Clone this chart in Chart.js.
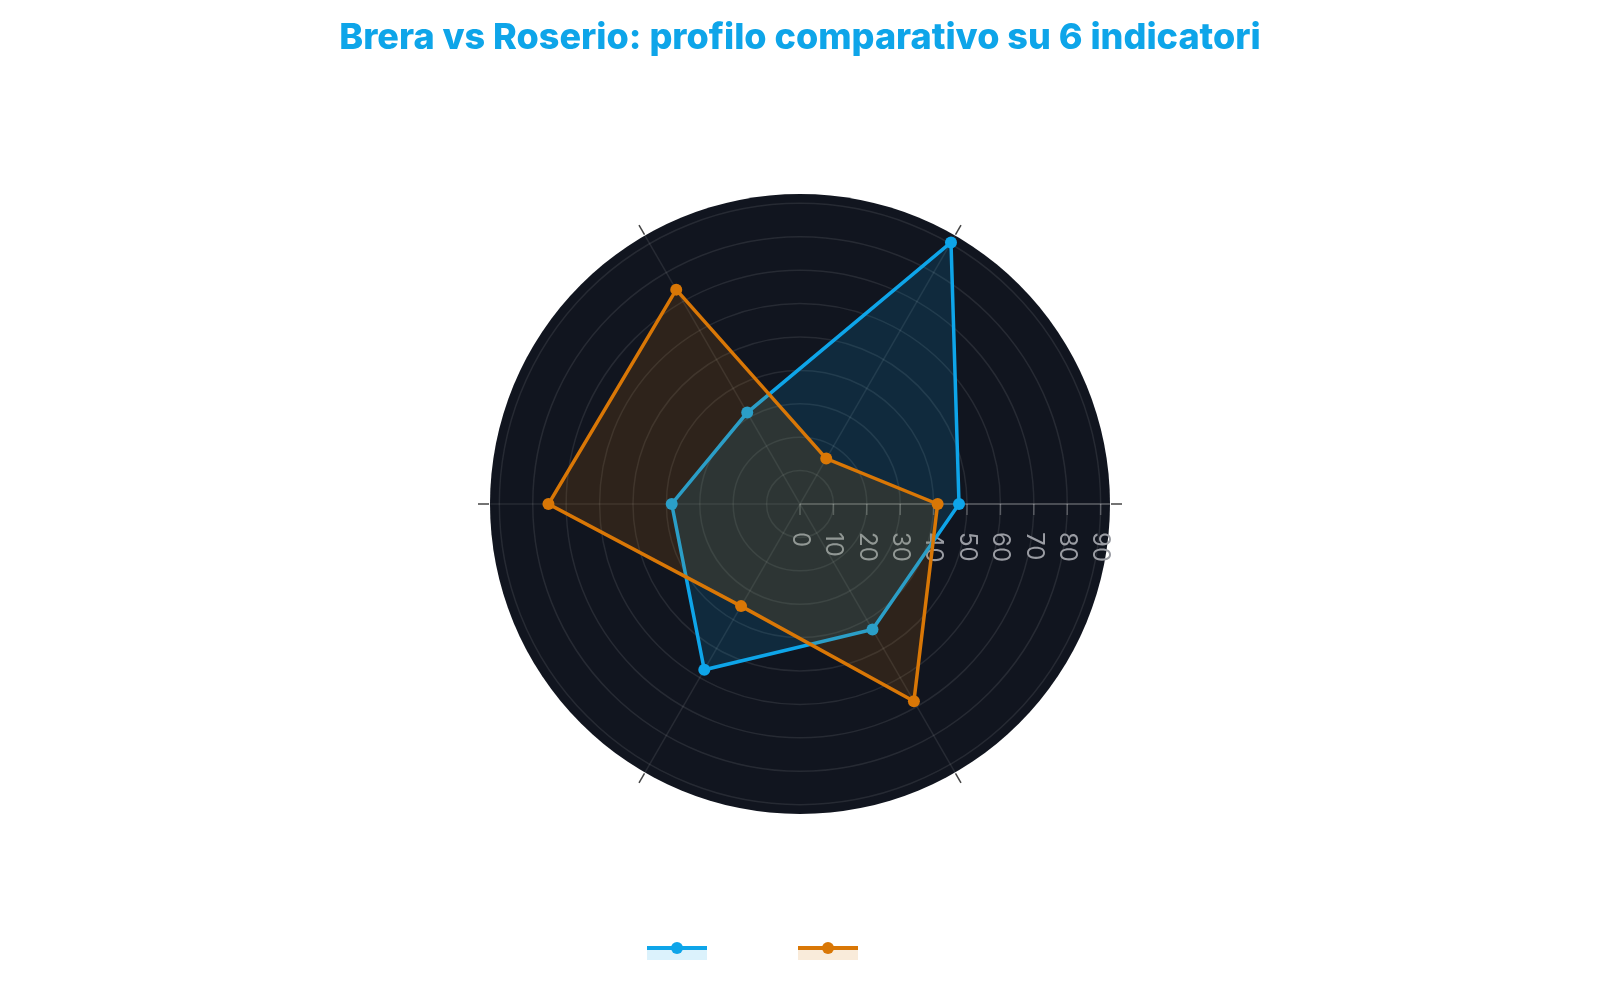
<!DOCTYPE html>
<html lang="it">
<head>
<meta charset="utf-8">
<title>Brera vs Roserio</title>
<script src="https://cdn.jsdelivr.net/npm/chart.js@4.4.1/dist/chart.umd.min.js"></script>
<style>
  html, body { margin: 0; padding: 0; background: #fff; }
  #wrap { width: 1600px; height: 1000px; position: relative; }
</style>
</head>
<body>
<div id="wrap"><canvas id="radar-chart"></canvas></div>
<script>
// data, in the reference's order (counter-clockwise from 3 o'clock)
const categories = ["Indicatore 1", "Indicatore 2", "Indicatore 3", "Indicatore 4", "Indicatore 5", "Indicatore 6"];
const breraValues = [47.6, 90.4, 31.6, 38.4, 57.3, 43.4];
const roserioValues = [41.2, 15.7, 74.1, 75.3, 35.3, 68.2];
const tickValues = [0, 10, 20, 30, 40, 50, 60, 70, 80, 90];
const seriesNames = ["Brera", "Roserio"];
const chartTitle = "Brera vs Roserio: profilo comparativo su 6 indicatori";

const BLUE = "#0ea5e9";
const ORANGE = "#d97706";
const BLUE_FILL = "rgba(14,165,233,0.15)";
const ORANGE_FILL = "rgba(217,119,6,0.15)";

Chart.defaults.font.family = "Inter, 'Noto Sans', sans-serif";

// chart.js walks clockwise, so keep the first one at 3 o'clock and flip the rest
const order = [0, 5, 4, 3, 2, 1];
const reorder = (arr) => order.map((i) => arr[i]);

const polarDecor = {
  id: "polarDecor",
  beforeDraw(chart) {
    const { ctx } = chart;
    const r = chart.scales.r;
    ctx.save();

    // category labels first (white on white, as in the reference), so ticks go on top
    ctx.font = "18px Inter, 'Noto Sans', sans-serif";
    ctx.fillStyle = "#ffffff";
    reorder(categories).forEach((c, i) => {
      const p = r.getPointPosition(i, r.drawingArea + 18);
      const dx = p.x - r.xCenter;
      const dy = p.y - r.yCenter;
      ctx.textAlign = Math.abs(dx) < 1 ? "center" : dx > 0 ? "left" : "right";
      ctx.textBaseline = Math.abs(dy) < 1 ? "middle" : dy > 0 ? "top" : "bottom";
      ctx.fillText(c, p.x, p.y);
    });

    ctx.beginPath();
    ctx.arc(r.xCenter, r.yCenter, r.drawingArea, 0, Math.PI * 2);
    ctx.fillStyle = "#11151f";
    ctx.fill();
    ctx.restore();
  },
  beforeDatasetsDraw(chart) {
    const { ctx } = chart;
    const r = chart.scales.r;
    ctx.save();

    // angular ticks, outside the circle
    ctx.strokeStyle = "#444";
    ctx.lineWidth = 1.5;
    categories.forEach((c, i) => {
      const a = r.getPointPosition(i, r.drawingArea + 1);
      const b = r.getPointPosition(i, r.drawingArea + 12);
      ctx.beginPath();
      ctx.moveTo(a.x, a.y);
      ctx.lineTo(b.x, b.y);
      ctx.stroke();
    });

    // radial axis line
    const end = r.getPointPosition(0, r.drawingArea);
    ctx.strokeStyle = "rgba(255,255,255,0.25)";
    ctx.lineWidth = 1.5;
    ctx.beginPath();
    ctx.moveTo(r.xCenter, r.yCenter);
    ctx.lineTo(end.x, end.y);
    ctx.stroke();

    // radial ticks + rotated labels
    ctx.font = "24px Inter, 'Noto Sans', sans-serif";
    ctx.fillStyle = "#9a9ca3";
    ctx.textAlign = "left";
    ctx.textBaseline = "middle";
    tickValues.forEach((v) => {
      const x = r.xCenter + r.getDistanceFromCenterForValue(v);
      ctx.strokeStyle = "rgba(255,255,255,0.25)";
      ctx.beginPath();
      ctx.moveTo(x, r.yCenter);
      ctx.lineTo(x, r.yCenter + 11);
      ctx.stroke();
      ctx.save();
      ctx.translate(x, r.yCenter + 28);
      ctx.rotate(Math.PI / 2);
      ctx.fillText(String(v), 0, 0);
      ctx.restore();
    });
    ctx.restore();
  },
  afterDraw(chart) {
    const { ctx } = chart;
    const cx = chart.width / 2;
    ctx.save();

    // title
    ctx.font = "800 36px Inter, 'Noto Sans', sans-serif";
    ctx.fillStyle = BLUE;
    ctx.textAlign = "center";
    ctx.textBaseline = "alphabetic";
    ctx.fillText(chartTitle, cx, 49);

    // legend
    const colors = [BLUE, ORANGE];
    const fills = [BLUE_FILL, ORANGE_FILL];
    const y = 948;
    ctx.textBaseline = "middle";
    seriesNames.forEach((name, i) => {
      const x0 = cx - 153 + i * 151;
      ctx.fillStyle = fills[i];
      ctx.fillRect(x0, y, 60, 12);
      ctx.strokeStyle = colors[i];
      ctx.lineWidth = 4;
      ctx.beginPath();
      ctx.moveTo(x0, y);
      ctx.lineTo(x0 + 60, y);
      ctx.stroke();
      ctx.fillStyle = colors[i];
      ctx.beginPath();
      ctx.arc(x0 + 30, y, 6, 0, Math.PI * 2);
      ctx.fill();
      ctx.fillStyle = "#ffffff";
      ctx.textAlign = "left";
      ctx.font = "20px Inter, 'Noto Sans', sans-serif";
      ctx.fillText(name, x0 + 68, y);
    });
    ctx.restore();
  },
};

const radarCanvas = document.getElementById("radar-chart");
if (radarCanvas) {
  // eslint-disable-next-line no-unused-vars
  const radarChart = new Chart(radarCanvas, {
    type: "radar",
    data: {
      labels: reorder(categories),
      datasets: [
        {
          label: seriesNames[0],
          data: reorder(breraValues),
          borderColor: BLUE,
          backgroundColor: BLUE_FILL,
          pointBackgroundColor: BLUE,
          fill: true,
          order: 1,
        },
        {
          label: seriesNames[1],
          data: reorder(roserioValues),
          borderColor: ORANGE,
          backgroundColor: ORANGE_FILL,
          pointBackgroundColor: ORANGE,
          fill: true,
          order: 0,
        },
      ],
    },
    options: {
      responsive: true,
      maintainAspectRatio: false,
      animation: false,
      layout: {
        padding: { top: 194, bottom: 186, left: 0, right: 0 },
      },
      plugins: {
        legend: { display: false },
        title: { display: false },
        tooltip: { enabled: false },
      },
      scales: {
        r: {
          min: 0,
          max: 92.8,
          startAngle: 90,
          ticks: {
            display: false,
            stepSize: 10,
            includeBounds: false,
          },
          pointLabels: { display: false },
          grid: {
            circular: true,
            color: "rgba(255,255,255,0.09)",
            lineWidth: 1.5,
          },
          angleLines: {
            color: "rgba(255,255,255,0.09)",
            lineWidth: 1.5,
          },
        },
      },
      elements: {
        line: {
          borderWidth: 3.5,
          tension: 0,
        },
        point: {
          radius: 6,
          borderWidth: 0,
          hoverRadius: 6,
        },
      },
    },
    plugins: [polarDecor],
  });
}
</script>
</body>
</html>
